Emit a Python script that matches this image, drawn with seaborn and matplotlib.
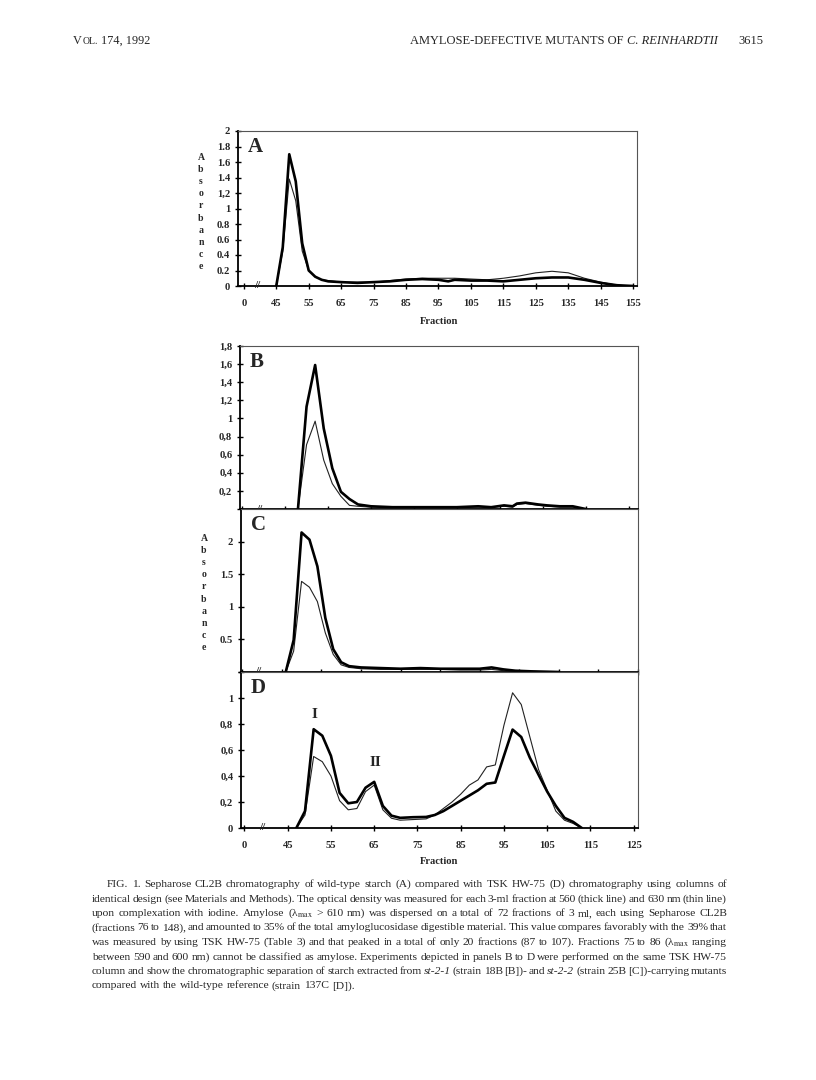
import numpy as np
import pandas as pd
import seaborn as sns
import matplotlib.pyplot as plt
import matplotlib.transforms as mtransforms

# ---- data (fraction number, absorbance) ----
# A: Sepharose CL2B, wild type
a_frac = [45, 47, 49, 51, 53, 55, 57, 59, 61, 65, 70, 75, 80, 85, 90, 95, 98, 100,
          105, 110, 115, 120, 125, 130, 135, 140, 145, 150, 155]
a_thick = [0, 0.5, 1.70, 1.35, 0.55, 0.2, 0.12, 0.08, 0.06, 0.05, 0.04, 0.05, 0.06, 0.08,
           0.09, 0.08, 0.06, 0.08, 0.07, 0.07, 0.06, 0.08, 0.10, 0.11, 0.11, 0.08, 0.04, 0.01, 0]
a_thin = [0, 0.45, 1.38, 1.10, 0.45, 0.2, 0.12, 0.08, 0.07, 0.05, 0.05, 0.05, 0.07, 0.09,
          0.10, 0.10, 0.10, 0.10, 0.09, 0.08, 0.10, 0.13, 0.17, 0.19, 0.17, 0.10, 0.05, 0.01, 0]

# B: TSK HW-75, st-2-1
b_frac = [48, 50, 52, 54, 56, 58, 60, 62, 65, 70, 75, 80, 85, 90, 93, 96, 98, 99,
          101, 104, 106, 109, 112, 115]
b_thick = [0, 1.13, 1.59, 0.89, 0.45, 0.19, 0.11, 0.05, 0.03, 0.02, 0.02, 0.02, 0.02, 0.03,
           0.02, 0.04, 0.03, 0.06, 0.07, 0.05, 0.04, 0.03, 0.03, 0]
b_thin = [0, 0.71, 0.97, 0.54, 0.28, 0.14, 0.04, 0.03, 0.02, 0.02, 0.02, 0.02, 0.02, 0.02,
          0.02, 0.03, 0.02, 0.05, 0.06, 0.04, 0.03, 0.02, 0.02, 0]

# C: TSK HW-75, st-2-2
c_frac = [46, 48, 50, 52, 54, 56, 58, 60, 62, 65, 70, 75, 80, 85, 90, 95, 98, 101, 104, 108, 115]
c_thick = [0, 0.49, 2.14, 2.03, 1.62, 0.83, 0.35, 0.15, 0.09, 0.07, 0.06, 0.05, 0.06, 0.05,
           0.05, 0.05, 0.07, 0.04, 0.02, 0.01, 0]
c_thin = [0, 0.32, 1.39, 1.30, 1.08, 0.60, 0.27, 0.11, 0.07, 0.05, 0.04, 0.04, 0.04, 0.04,
          0.03, 0.03, 0.04, 0.02, 0.01, 0.01, 0]

# D: TSK HW-75, wild type 137C
d_frac = [47, 49, 51, 53, 55, 57, 59, 61, 63, 65, 67, 69, 71, 74, 77, 79, 81, 83, 85, 87,
          89, 91, 93, 95, 97, 99, 101, 103, 105, 107, 109, 111, 113]
d_thick = [0, 0.13, 0.76, 0.71, 0.555, 0.27, 0.19, 0.2, 0.31, 0.355, 0.17, 0.095, 0.078,
           0.083, 0.085, 0.1, 0.13, 0.17, 0.21, 0.25, 0.29, 0.34, 0.35, 0.555, 0.757, 0.70,
           0.54, 0.41, 0.28, 0.17, 0.078, 0.047, 0]
d_thin = [0, 0.10, 0.55, 0.51, 0.40, 0.21, 0.14, 0.15, 0.28, 0.33, 0.14, 0.075, 0.06, 0.065,
          0.07, 0.10, 0.15, 0.20, 0.26, 0.33, 0.37, 0.47, 0.485, 0.79, 1.04, 0.95, 0.70, 0.45,
          0.29, 0.13, 0.06, 0.035, 0]

a_xticks = ['0', '45', '55', '65', '75', '85', '95', '105', '115', '125', '135', '145', '155']
d_xticks = ['0', '45', '55', '65', '75', '85', '95', '105', '115', '125']
a_yticks = ['0', '0.2', '0.4', '0.6', '0.8', '1', '1,2', '1.4', '1.6', '1.8', '2']
b_yticks = ['', '0,2', '0,4', '0,6', '0,8', '1', '1,2', '1,4', '1,6', '1,8']
c_yticks = ['', '0.5', '1', '1.5', '2']
d_yticks = ['0', '0,2', '0,4', '0,6', '0,8', '1', '']

caption = [
    "FIG. 1. Sepharose CL2B chromatography of wild-type starch (A) compared with TSK HW-75 (D) chromatography using columns of",
    "identical design (see Materials and Methods). The optical density was measured for each 3-ml fraction at 560 (thick line) and 630 nm (thin line)",
    r"upon complexation with iodine. Amylose (λ$_{\mathrm{max}}$ > 610 nm) was dispersed on a total of 72 fractions of 3 ml, each using Sepharose CL2B",
    "(fractions 76 to 148), and amounted to 35% of the total amyloglucosidase digestible material. This value compares favorably with the 39% that",
    r"was measured by using TSK HW-75 (Table 3) and that peaked in a total of only 20 fractions (87 to 107). Fractions 75 to 86 (λ$_{\mathrm{max}}$ ranging",
    "between 590 and 600 nm) cannot be classified as amylose. Experiments depicted in panels B to D were performed on the same TSK HW-75",
    "column and show the chromatographic separation of starch extracted from *st-2-1* (strain 18B [B])- and *st-2-2* (strain 25B [C])-carrying mutants",
    "compared with the wild-type reference (strain 137C [D]).",
]

sns.set_theme(style="white")
plt.rcParams['font.family'] = ['Liberation Serif', 'DejaVu Serif']
plt.rcParams['mathtext.fontset'] = 'stix'

W, H = 816, 1080
fig = plt.figure(figsize=(W / 100, H / 100), dpi=100)
ident = mtransforms.IdentityTransform()


def box(l, t, r, b):
    return [l / W, 1 - b / H, (r - l) / W, (b - t) / H]


def frame(frac, thick, thin):
    # broken x axis: "0" then 45, 55, ... one tick step apart
    return pd.DataFrame({'u': np.array(frac) - 35, 'thick': thick, 'thin': thin})


def panel(rect, df, xlim, ylim, yticks, ylabels, letter):
    ax = fig.add_axes(box(*rect))
    sns.lineplot(data=df, x='u', y='thin', color='#222222', lw=0.8, ax=ax)
    sns.lineplot(data=df, x='u', y='thick', color='black', lw=1.9, ax=ax)
    ax.set_xlim(*xlim)
    ax.set_ylim(*ylim)
    ax.set_xlabel('')
    ax.set_ylabel('')
    ax.set_yticks(yticks)
    ax.set_yticklabels(ylabels, fontsize=7.6, fontweight='bold')
    for s in ['top', 'right']:
        ax.spines[s].set_color('#555555')
        ax.spines[s].set_linewidth(0.8)
    for s in ['left', 'bottom']:
        ax.spines[s].set_color('black')
        ax.spines[s].set_linewidth(1.3)
    ax.tick_params(direction='inout', length=5, width=1, color='black', pad=3,
                   left=True, bottom=True)
    ax.text(0.025, 0.9, letter, transform=ax.transAxes, fontsize=15, fontweight='bold',
            va='center', ha='left')
    # axis break marks
    ax.text(4, 0, '//', transform=mtransforms.blended_transform_factory(ax.transData, ax.transAxes),
            fontsize=8, fontweight='bold', ha='center', va='center', clip_on=False)
    return ax


def absorbance_label(x, yc):
    fig.text(x / W, 1 - yc / H, '\n'.join('Absorbance'), fontsize=7, fontweight='bold',
             ha='center', va='center', linespacing=1.45)


xt_a = [0] + list(range(10, 121, 10))
xt_d = [0] + list(range(10, 91, 10))

ax_a = panel((238, 131, 637, 286), frame(a_frac, a_thick, a_thin), (-1.8, 121.2), (0, 2),
             np.arange(0, 2.01, 0.2), a_yticks, 'A')
ax_a.set_xticks(xt_a)
ax_a.set_xticklabels(a_xticks, fontsize=7.6, fontweight='bold')
ax_a.tick_params(axis='x', pad=7)
absorbance_label(201, 212)
fig.text(439 / W, 1 - 321 / H, 'Fraction', fontsize=7.6, fontweight='bold', ha='center', va='center')

ax_b = panel((240, 346, 638, 509), frame(b_frac, b_thick, b_thin), (-0.5, 92.2), (0, 1.8),
             np.arange(0, 1.81, 0.2), b_yticks, 'B')
ax_b.set_xticks(xt_d)
ax_b.set_xticklabels([])

ax_c = panel((241, 509, 638, 672), frame(c_frac, c_thick, c_thin), (-0.3, 96), (0, 2.5),
             [0, 0.5, 1, 1.5, 2], c_yticks, 'C')
ax_c.set_xticks(xt_d + [100])
ax_c.set_xticklabels([])
absorbance_label(204, 593)

ax_d = panel((241, 672, 638, 828), frame(d_frac, d_thick, d_thin), (-0.8, 91), (0, 1.2),
             [0, 0.2, 0.4, 0.6, 0.8, 1, 1.2], d_yticks, 'D')
ax_d.set_xticks(xt_d)
ax_d.set_xticklabels(d_xticks, fontsize=7.6, fontweight='bold')
ax_d.tick_params(axis='x', pad=7)
ax_d.text(16.2, 0.87, 'I', fontsize=11, fontweight='bold', ha='center', va='center')
ax_d.text(30.2, 0.5, 'II', fontsize=11, fontweight='bold', ha='center', va='center')
fig.text(439 / W, 1 - 862 / H, 'Fraction', fontsize=7.6, fontweight='bold', ha='center', va='center')

# ---- running head and caption as justified text ----
renderer = fig.canvas.get_renderer()


def word(s, size, style='normal'):
    t = fig.text(0, 0, s, fontsize=size, fontstyle=style, transform=ident,
                 ha='left', va='baseline')
    return t, t.get_window_extent(renderer).width


x_right = 727
size_cap = 8.25
for i, line in enumerate(caption):
    x0 = 107 if i == 0 else 92
    items = []
    for w in line.split(' '):
        style = 'italic' if w.startswith('*') else 'normal'
        items.append(word(w.strip('*'), size_cap, style))
    total = sum(wd for _, wd in items)
    if i < len(caption) - 1:
        gap = (x_right - x0 - total) / (len(items) - 1)
    else:
        gap = 0.25 * size_cap * 100 / 72
    x = x0
    for t, wd in items:
        t.set_position((x, H - (887 + i * 14.5)))
        x += wd + gap

# running head
t, wd = word('V', 8.8)
t.set_position((73, H - 44))
t2, wd2 = word('OL.', 7)
t2.set_position((73 + wd + 0.5, H - 44))
t3, wd3 = word('174, 1992', 8.8)
t3.set_position((73 + wd + wd2 + 3.5, H - 44))

tp, wp = word('3615', 9)
tp.set_position((763 - wp, H - 44))
ti, wi = word('C. REINHARDTII', 9, 'italic')
ti.set_position((718 - wi, H - 44))
tn, wn = word('AMYLOSE-DEFECTIVE MUTANTS OF', 9)
tn.set_position((718 - wi - 4 - wn, H - 44))

fig.savefig('out.png', dpi=100, facecolor='white')
